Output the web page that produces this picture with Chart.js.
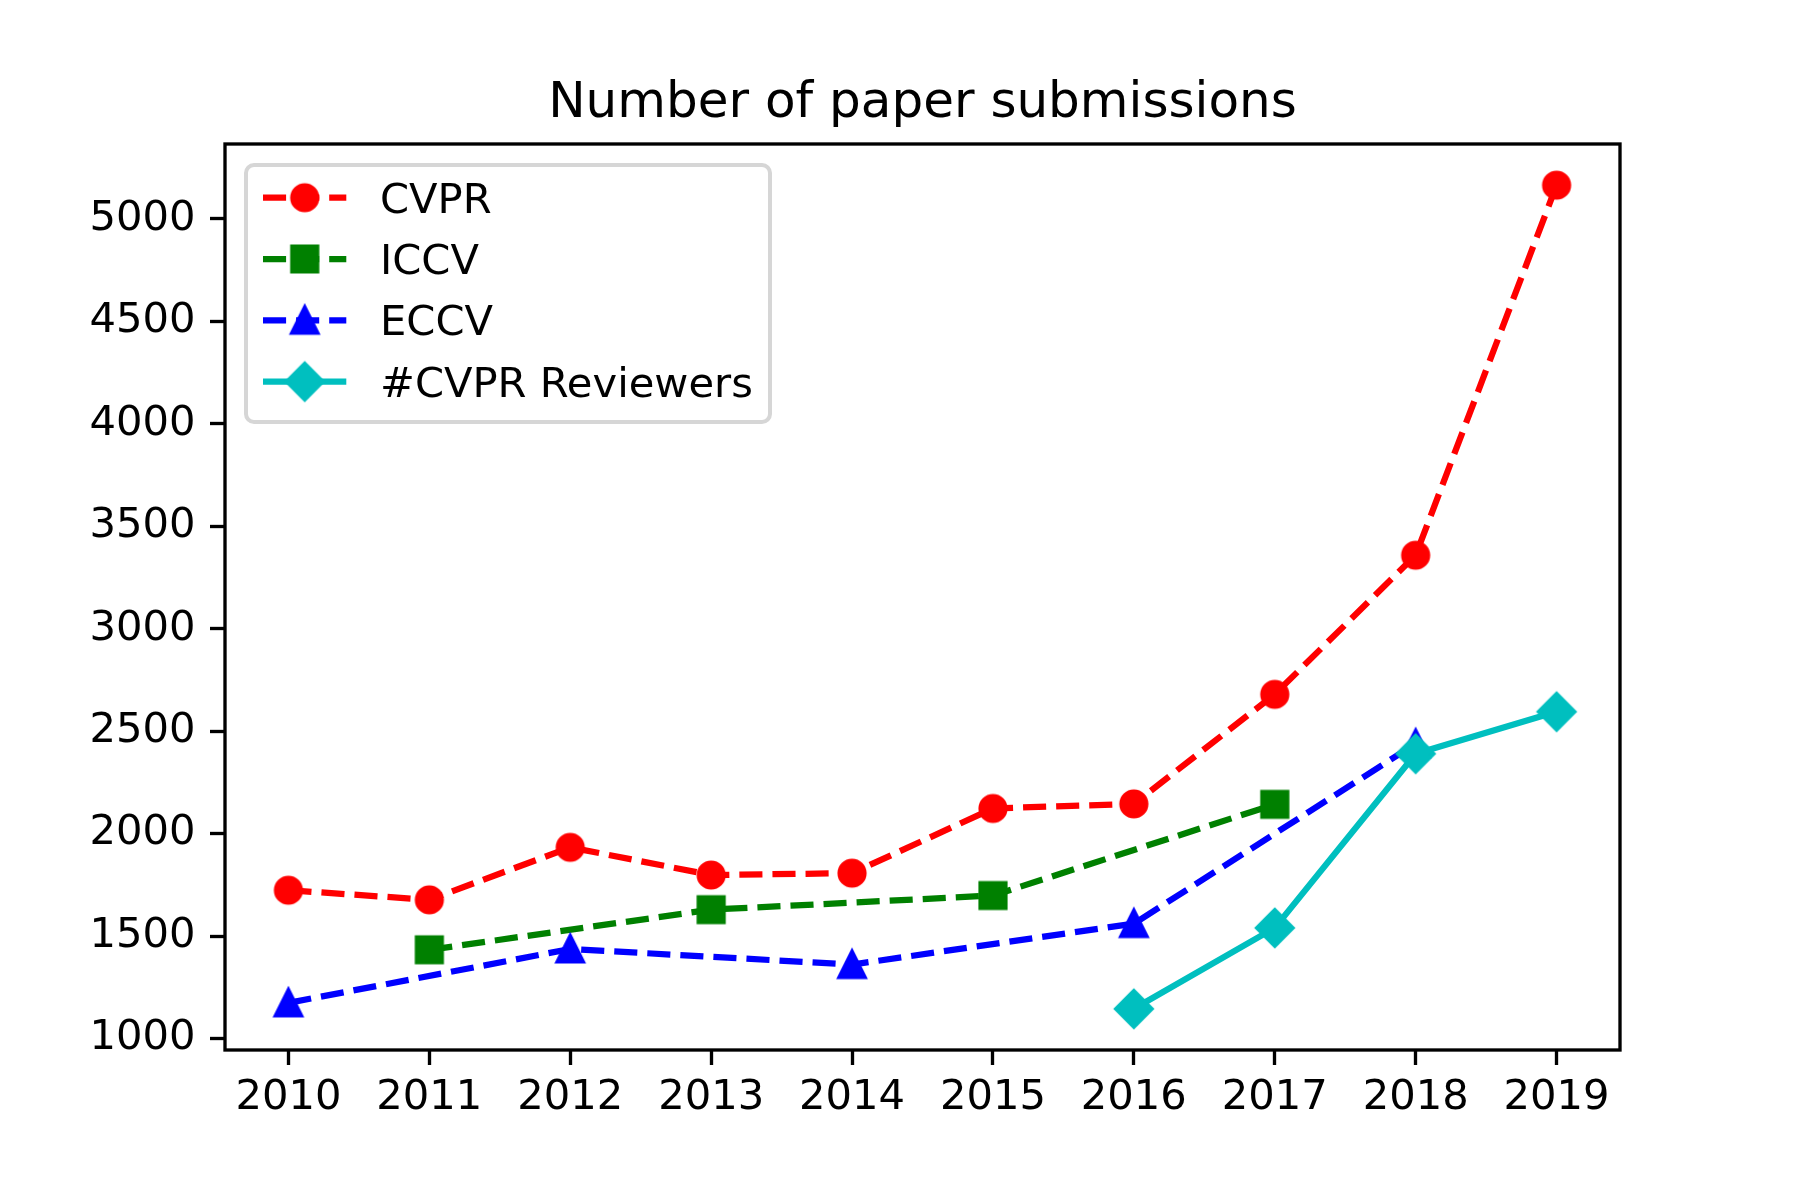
<!DOCTYPE html>
<html>
<head>
<meta charset="utf-8">
<script src="https://cdn.jsdelivr.net/npm/chart.js@4.4.0/dist/chart.umd.min.js"></script>
<style>
  html, body { margin: 0; padding: 0; background: #fff; }
  canvas { display: block; }
</style>
</head>
<body>
<canvas id="submissionsChart" width="1800" height="1200"></canvas>
<script>
// Data
const years = [2010, 2011, 2012, 2013, 2014, 2015, 2016, 2017, 2018, 2019];
const cvprSubmissions = [1724, 1677, 1933, 1798, 1807, 2123, 2145, 2680, 3359, 5165];
const iccvYears = [2011, 2013, 2015, 2017];
const iccvSubmissions = [1433, 1629, 1698, 2143];
const eccvYears = [2010, 2012, 2014, 2016, 2018];
const eccvSubmissions = [1174, 1437, 1361, 1561, 2439];
const reviewerYears = [2016, 2017, 2018, 2019];
const cvprReviewers = [1145, 1540, 2390, 2595];
const yTicks = [1000, 1500, 2000, 2500, 3000, 3500, 4000, 4500, 5000];

const FONT = '"DejaVu Sans", "Liberation Sans", sans-serif';
const DASH = [23.1, 10];
const LINE_W = 6.25;

function points(xs, ys) {
    return xs.map((x, i) => ({x: x, y: ys[i]}));
}

// matplotlib-like markers drawn on small canvases
function makeMarker(shape, color) {
    const size = 46;
    const c = document.createElement('canvas');
    c.width = size;
    c.height = size;
    const g = c.getContext('2d');
    const ms = 25, h = ms / 2, cx = size / 2;
    g.fillStyle = color;
    g.strokeStyle = color;
    g.lineWidth = 4.17;
    g.lineJoin = 'miter';
    g.beginPath();
    if (shape === 'circle') {
        g.arc(cx, cx, h, 0, 2 * Math.PI);
    } else if (shape === 'square') {
        g.rect(cx - h, cx - h, ms, ms);
    } else if (shape === 'triangle') {
        g.moveTo(cx, cx - h);
        g.lineTo(cx + h, cx + h);
        g.lineTo(cx - h, cx + h);
        g.closePath();
    } else if (shape === 'diamond') {
        const d = h * Math.SQRT2;
        g.moveTo(cx, cx - d);
        g.lineTo(cx + d, cx);
        g.lineTo(cx, cx + d);
        g.lineTo(cx - d, cx);
        g.closePath();
    }
    g.fill();
    g.stroke();
    return c;
}

function makeDataset(label, xs, ys, color, shape, dashed, order) {
    const marker = makeMarker(shape, color);
    return {
        label: label,
        data: points(xs, ys),
        borderColor: color,
        backgroundColor: color,
        borderWidth: LINE_W,
        borderDash: dashed ? DASH : [],
        borderCapStyle: dashed ? 'butt' : 'square',
        borderJoinStyle: 'round',
        pointStyle: marker,
        pointRadius: 14,
        pointHoverRadius: 14,
        tension: 0,
        fill: false,
        order: order,
        legendMarker: marker
    };
}

// axis range like matplotlib's 5% margins
const allX = years;
const allY = cvprSubmissions.concat(iccvSubmissions, eccvSubmissions, cvprReviewers);
const xSpan = Math.max(...allX) - Math.min(...allX);
const ySpan = Math.max(...allY) - Math.min(...allY);

// frame round the plot area
const framePlugin = {
    id: 'frame',
    afterDatasetsDraw(chart) {
        const a = chart.chartArea;
        const ctx = chart.ctx;
        ctx.save();
        ctx.strokeStyle = '#000';
        ctx.lineWidth = 3.33;
        ctx.setLineDash([]);
        ctx.strokeRect(a.left, a.top, a.right - a.left, a.bottom - a.top);
        ctx.restore();
    }
};

// legend in the style of matplotlib (line + marker handles)
const legendPlugin = {
    id: 'mplLegend',
    afterDraw(chart) {
        const ctx = chart.ctx;
        const box = {left: 246, top: 165, width: 524, height: 257, r: 8};
        ctx.save();
        ctx.fillStyle = 'rgba(255,255,255,0.8)';
        ctx.strokeStyle = '#d6d6d6';
        ctx.lineWidth = 4;
        ctx.beginPath();
        ctx.roundRect(box.left, box.top, box.width, box.height, box.r);
        ctx.fill();
        ctx.stroke();

        chart.data.datasets.forEach((ds, i) => {
            const y = 197.7 + 61.3 * i;
            ctx.strokeStyle = ds.borderColor;
            ctx.lineWidth = LINE_W;
            ctx.lineCap = 'butt';
            ctx.setLineDash(ds.borderDash);
            ctx.beginPath();
            ctx.moveTo(263, y);
            ctx.lineTo(346.3, y);
            ctx.stroke();
            ctx.setLineDash([]);
            const m = ds.legendMarker;
            ctx.drawImage(m, 304.7 - m.width / 2, y - m.height / 2);
            ctx.fillStyle = '#000';
            ctx.font = '41.67px ' + FONT;
            ctx.textAlign = 'left';
            ctx.textBaseline = 'alphabetic';
            ctx.fillText(ds.label, 380, y + 15);
        });
        ctx.restore();
    }
};

const ctx = document.getElementById('submissionsChart').getContext('2d');
new Chart(ctx, {
    type: 'line',
    data: {
        datasets: [
            makeDataset('CVPR', years, cvprSubmissions, '#ff0000', 'circle', true, 4),
            makeDataset('ICCV', iccvYears, iccvSubmissions, '#008000', 'square', true, 3),
            makeDataset('ECCV', eccvYears, eccvSubmissions, '#0000ff', 'triangle', true, 2),
            makeDataset('#CVPR Reviewers', reviewerYears, cvprReviewers, '#00bfbf', 'diamond', false, 1)
        ]
    },
    options: {
        responsive: false,
        devicePixelRatio: 1,
        animation: false,
        events: [],
        layout: {
            padding: {left: 0, right: 180, top: 0, bottom: 0}
        },
        plugins: {
            legend: {display: false},
            tooltip: {enabled: false},
            title: {
                display: true,
                text: 'Number of paper submissions',
                color: '#000',
                fullSize: false,
                font: {family: FONT, size: 50, weight: 'normal', lineHeight: 1.2},
                padding: {top: 74.5, bottom: 9.5}
            }
        },
        scales: {
            x: {
                type: 'linear',
                min: Math.min(...allX) - 0.05 * xSpan,
                max: Math.max(...allX) + 0.05 * xSpan,
                afterBuildTicks: scale => {
                    scale.ticks = years.map(v => ({value: v}));
                },
                afterFit: scale => {
                    scale.height = 150;
                },
                grid: {
                    display: true,
                    drawOnChartArea: false,
                    drawTicks: true,
                    tickLength: 15,
                    tickWidth: 3.33,
                    tickColor: '#000'
                },
                border: {display: false},
                ticks: {
                    color: '#000',
                    padding: 8.5,
                    maxRotation: 0,
                    autoSkip: false,
                    font: {family: FONT, size: 41.67},
                    callback: v => String(v)
                }
            },
            y: {
                type: 'linear',
                min: Math.min(...allY) - 0.05 * ySpan,
                max: Math.max(...allY) + 0.05 * ySpan,
                afterBuildTicks: scale => {
                    scale.ticks = yTicks.map(v => ({value: v}));
                },
                afterFit: scale => {
                    scale.width = 225;
                },
                grid: {
                    display: true,
                    drawOnChartArea: false,
                    drawTicks: true,
                    tickLength: 15,
                    tickWidth: 3.33,
                    tickColor: '#000'
                },
                border: {display: false},
                ticks: {
                    color: '#000',
                    padding: 14.5,
                    autoSkip: false,
                    font: {family: FONT, size: 41.67},
                    callback: v => String(v)
                }
            }
        }
    },
    plugins: [framePlugin, legendPlugin]
});
</script>
</body>
</html>
